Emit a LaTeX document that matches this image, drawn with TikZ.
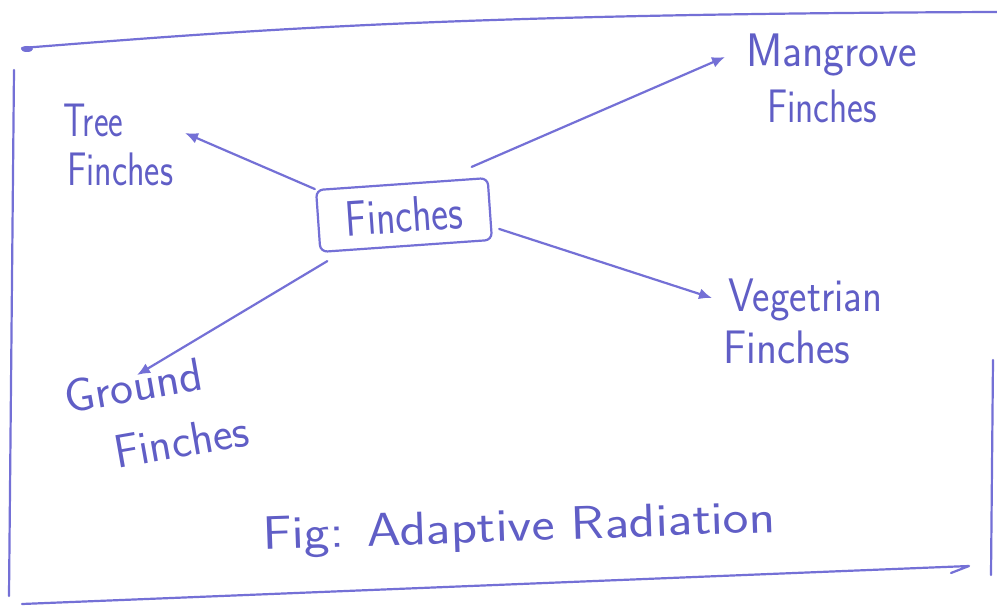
\documentclass[tikz,border=0pt]{standalone}
\usepackage{graphicx}
\usetikzlibrary{arrows.meta,calc}
\definecolor{ink}{RGB}{96,94,198}
\definecolor{pen}{RGB}{116,112,214}
% stretch a word to a given width, keeping its height
\newcommand{\hw}[2]{\resizebox{#1pt}{\height}{#2}}

\begin{document}
\begin{tikzpicture}[x=1pt,y=1pt,
  hand/.style={text=ink, font=\sffamily\fontsize{47}{50}\selectfont, inner sep=0pt, anchor=base west},
  ln/.style={draw=pen, line width=2.2pt, line cap=round, line join=round},
  arr/.style={ln, -{Latex[length=13pt,width=11pt]}},
  centre/.style={draw=pen, line width=2.2pt, rounded corners=7pt, text=ink,
    font=\sffamily\fontsize{50}{52}\selectfont,
    minimum width=172pt, minimum height=62pt, inner sep=0pt}]
\useasboundingbox (0,0) rectangle (997,-607);
\fill[white] (0,0) rectangle (997,-607);

% hand-drawn frame
\draw[ln] (22,-48) .. controls (250,-30) and (450,-14) .. (997,-12);
\fill[pen] (27,-49) ellipse [x radius=6pt, y radius=3pt];
\draw[ln] (14,-70) -- (9,-596);
\draw[ln] (22,-604) -- (969,-566) -- (951,-573);
\draw[ln] (993,-360) -- (991,-575);

% central box
\node[centre, rotate=4] (box) at (404,-215) {\hw{117}{Finches}};

% labels
\node[hand] (tree)   at (63,-137)  {\hw{60}{Tree}};
\node[hand] (treeF)  at (67,-186)  {\hw{106}{Finches}};
\node[hand] (mang)   at (746,-67)  {\hw{171}{Mangrove}};
\node[hand] (mangF)  at (767,-123) {\hw{110}{Finches}};
\node[hand] (veg)    at (728,-312) {\hw{154}{Vegetrian}};
\node[hand] (vegF)   at (723,-363) {\hw{127}{Finches}};
\node[hand, rotate=10] (ground)  at (67,-414)  {\hw{140}{Ground}};
\node[hand, rotate=10] (groundF) at (117,-469) {\hw{136}{Finches}};
\node[hand, rotate=2]  (fig)     at (263,-550) {\hw{513}{Fig: Adaptive Radiation}};

% arrow tips beside the labels
\coordinate (treetip)   at (185,-133);
\coordinate (mangtip)   at (725,-57);
\coordinate (vegtip)    at (712,-298);
\coordinate (groundtip) at (137,-375);

% radiating arrows
\draw[arr] (box.north west) -- (treetip);
\draw[arr] ($(box.north east)+(-17,10)$) -- (mangtip);
\draw[arr] ($(box.south east)+(6,12)$) -- (vegtip);
\draw[arr] ($(box.south west)+(8,-8)$) -- (groundtip);
\end{tikzpicture}
\end{document}
